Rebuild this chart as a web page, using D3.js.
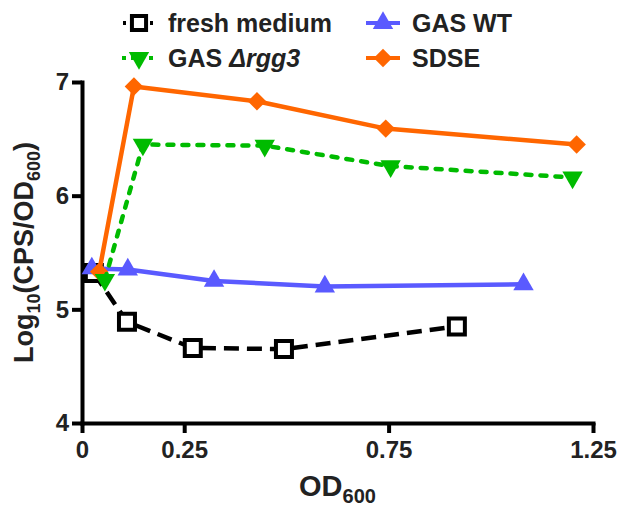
<!DOCTYPE html>
<html>
<head>
<meta charset="utf-8">
<script src="https://cdn.jsdelivr.net/npm/d3@7"></script>
<style>
  body { margin: 0; background: #fff; }
  text { font-family: "Liberation Sans", Arial, sans-serif; font-weight: bold; fill: #222; }
</style>
</head>
<body>
<svg id="chart" width="622" height="508"></svg>
<script>
// data
const seriesNames = ["fresh medium", "GAS WT", "SDSE", "GAS Δrgg3"];
const freshX = [0.029, 0.110, 0.271, 0.494, 0.917];
const freshY = [5.32, 4.89, 4.66, 4.65, 4.85];
const wtX = [0.024, 0.112, 0.323, 0.594, 1.08];
const wtY = [5.36, 5.35, 5.25, 5.20, 5.22];
const rggX = [0.056, 0.149, 0.447, 0.755, 1.20];
const rggY = [5.26, 6.45, 6.44, 6.26, 6.16];
const sdseX = [0.042, 0.127, 0.428, 0.743, 1.21];
const sdseY = [5.33, 6.96, 6.83, 6.59, 6.45];
const xTicks = [0, 0.25, 0.75, 1.25];
const xTickLabels = ["0", "0.25", "0.75", "1.25"];
const yTicks = [4, 5, 6, 7];

const svg = d3.select("#chart");
const x = d3.scaleLinear().domain([0, 1.25]).range([82, 593]);
const y = d3.scaleLinear().domain([4, 7]).range([423, 82]);

const zip = (xs, ys) => xs.map((v, i) => ({x: v, y: ys[i]}));

// styles per series
const styles = {
  "fresh medium": {color: "#000", dash: "15,8", cap: "butt", sym: d3.symbolSquare, size: 256, rot: 0, fill: "#fff", data: zip(freshX, freshY)},
  "GAS WT": {color: "#5a5aff", dash: null, cap: "butt", sym: d3.symbolTriangle, size: 180, rot: 0, fill: "#5a5aff", data: zip(wtX, wtY)},
  "SDSE": {color: "#ff6600", dash: null, cap: "butt", sym: d3.symbolSquare, size: 170, rot: 45, fill: "#ff6600", data: zip(sdseX, sdseY)},
  "GAS Δrgg3": {color: "#00bb00", dash: "6,9", cap: "round", sym: d3.symbolTriangle, size: 180, rot: 180, fill: "#00bb00", data: zip(rggX, rggY)}
};

// axes
const xAxis = d3.axisBottom(x).tickValues(xTicks).tickSize(10).tickSizeOuter(0)
  .tickFormat((d, i) => xTickLabels[i]).tickPadding(8);
const yAxis = d3.axisLeft(y).tickValues(yTicks).tickSize(10).tickSizeOuter(0)
  .tickFormat(d3.format("d")).tickPadding(3);

const gx = svg.append("g").attr("transform", `translate(0,${y(4)})`).call(xAxis);
const gy = svg.append("g").attr("transform", `translate(${x(0)},0)`).call(yAxis);
[gx, gy].forEach(g => {
  g.select(".domain").attr("stroke", "#000").attr("stroke-width", 4).attr("stroke-linecap", "square");
  g.selectAll(".tick line").attr("stroke", "#000").attr("stroke-width", 4);
  g.selectAll(".tick text").style("font-size", "24px").style("font-family", "Liberation Sans, Arial, sans-serif")
    .style("font-weight", "bold").attr("fill", "#222");
});

// lines and markers
const line = d3.line().x(d => x(d.x)).y(d => y(d.y));
seriesNames.forEach(name => {
  const s = styles[name];
  svg.append("path")
    .attr("d", line(s.data))
    .attr("fill", "none")
    .attr("stroke", s.color)
    .attr("stroke-width", 4.5)
    .attr("stroke-dasharray", s.dash)
    .attr("stroke-linecap", s.cap)
    .attr("stroke-linejoin", "round");
  svg.selectAll(null).data(s.data).join("path")
    .attr("transform", d => `translate(${x(d.x)},${y(d.y)}) rotate(${s.rot})`)
    .attr("d", d3.symbol().type(s.sym).size(s.size))
    .attr("fill", s.fill)
    .attr("stroke", name === "fresh medium" ? "#000" : "none")
    .attr("stroke-width", 4);
});

// legend
const legendPos = {
  "fresh medium": [139, 23],
  "GAS Δrgg3": [139, 58],
  "GAS WT": [383, 23],
  "SDSE": [383, 58]
};
Object.keys(legendPos).forEach(name => {
  const s = styles[name];
  const [cx, cy] = legendPos[name];
  const g = svg.append("g").attr("transform", `translate(${cx},${cy})`);
  g.append("line")
    .attr("x1", -17).attr("x2", 17)
    .attr("stroke", s.color).attr("stroke-width", 4)
    .attr("stroke-dasharray", name === "fresh medium" ? "3,6" : (s.dash ? "4,5" : null))
    .attr("stroke-dashoffset", name === "fresh medium" ? -1 : 0);
  g.append("path")
    .attr("transform", `rotate(${s.rot})`)
    .attr("d", d3.symbol().type(s.sym).size(name === "fresh medium" ? 200 : s.size))
    .attr("fill", s.fill)
    .attr("stroke", name === "fresh medium" ? "#000" : "none")
    .attr("stroke-width", 4);
  const t = g.append("text").attr("x", 29).attr("dy", "0.36em").style("font-size", "25px");
  if (name === "GAS Δrgg3") {
    t.append("tspan").text("GAS ");
    t.append("tspan").style("font-style", "italic").text("Δrgg3");
  } else {
    t.text(name);
  }
});

// axis titles
const xt = svg.append("text").attr("x", x(0.625)).attr("y", 496)
  .attr("text-anchor", "middle").style("font-size", "29px");
xt.append("tspan").text("OD");
xt.append("tspan").attr("dy", 7).style("font-size", "20px").text("600");

const yt = svg.append("text")
  .attr("transform", `translate(33,${y(5.5)}) rotate(-90)`)
  .attr("text-anchor", "middle").style("font-size", "27px");
yt.append("tspan").text("Log");
yt.append("tspan").attr("dy", 7).style("font-size", "18px").text("10");
yt.append("tspan").attr("dy", -7).text("(CPS/OD");
yt.append("tspan").attr("dy", 7).style("font-size", "18px").text("600");
yt.append("tspan").attr("dy", -7).text(")");
</script>
</body>
</html>
